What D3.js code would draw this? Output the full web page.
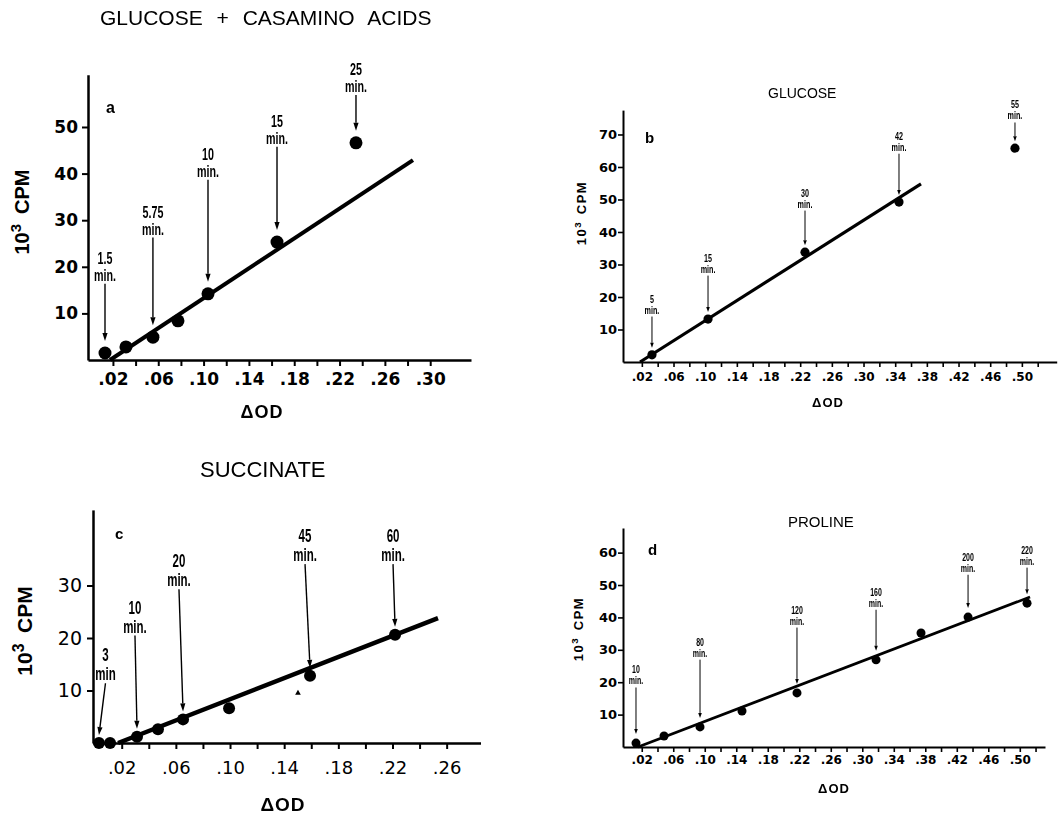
<!DOCTYPE html>
<html>
<head>
<meta charset="utf-8">
<script src="https://cdn.jsdelivr.net/npm/d3@7"></script>
<style>
  body { margin: 0; background: #fff; }
  svg { display: block; }
</style>
</head>
<body>
<div class="canvas"></div>
<script>
// ---- data ----

// a: glucose + casamino acids
const odA = [0.013, 0.0315, 0.0553, 0.0774, 0.1039, 0.1648, 0.2345];
const cpmA = [1.5, 2.8, 4.9, 8.4, 14.2, 25.3, 46.6];
const fitOdA = [0.0174, 0.2848];
const fitCpmA = [0, 42.9];
const noteIdxA = [0, 2, 4, 5, 6];
const noteTextA = ['1.5 min.', '5.75 min.', '10 min.', '15 min.', '25 min.'];
const noteTopA = [21.9, 31.8, 44.2, 51.3, 62.4];
const xTicksA = [.02, .04, .06, .08, .10, .12, .14, .16, .18, .20, .22, .24, .26, .28, .30];
const xLabelsA = ['.02', '.06', '.10', '.14', '.18', '.22', '.26', '.30'];
const yTicksA = [10, 20, 30, 40, 50];

// b: glucose
const odB = [0.0328, 0.1036, 0.2261, 0.3448, 0.4913];
const cpmB = [2.2, 13.2, 33.8, 49.2, 65.8];
const fitOdB = [0.0177, 0.3726];
const fitCpmB = [0, 54.8];
const noteIdxB = [0, 1, 2, 3, 4];
const noteTextB = ['5 min.', '15 min.', '30 min.', '42 min.', '55 min.'];
const noteTopB = [19.4, 32, 52, 69.5, 79.1];
const xTicksB = [.02, .04, .06, .08, .10, .12, .14, .16, .18, .20, .22, .24, .26, .28, .30, .32, .34, .36, .38, .40, .42, .44, .46, .48, .50, .52];
const xLabelsB = ['.02', '.06', '.10', '.14', '.18', '.22', '.26', '.30', '.34', '.38', '.42', '.46', '.50'];
const yTicksB = [10, 20, 30, 40, 50, 60, 70];

// c: succinate
const odC = [0.0032, 0.0114, 0.0313, 0.0468, 0.0653, 0.0993, 0.1591, 0.2219];
const cpmC = [0, 0, 1.2, 2.6, 4.5, 6.6, 12.8, 20.6];
const fitOdC = [0.0173, 0.2536];
const fitCpmC = [0, 23.8];
const noteIdxC = [0, 2, 4, 6, 7];
const noteTextC = ['3 min', '10 min.', '20 min.', '45 min.', '60 min.'];
const noteTopC = [16.8, 25.9, 34.7, 39.5, 39.5];
const noteOdC = [0.008, 0.0298, 0.0623, 0.1554, 0.2204];
const speckOdC = [0.1502];
const speckCpmC = [9.5];
const xTicksC = [.02, .04, .06, .08, .10, .12, .14, .16, .18, .20, .22, .24, .26];
const xLabelsC = ['.02', '.06', '.10', '.14', '.18', '.22', '.26'];
const yTicksC = [10, 20, 30];

// d: proline
const odD = [0.0127, 0.0483, 0.094, 0.1473, 0.2171, 0.3175, 0.3746, 0.4343, 0.5092];
const cpmD = [1.2, 3.4, 6.2, 11.1, 16.7, 26.9, 35.2, 40.1, 44.4];
const fitOdD = [0.0152, 0.513];
const fitCpmD = [0, 46.3];
const noteIdxD = [0, 2, 4, 5, 7, 8];
const noteTextD = ['10 min.', '80 min.', '120 min.', '160 min.', '200 min.', '220 min.'];
const noteTopD = [23.8, 32.4, 42.3, 47.8, 58.6, 60.8];
const xTicksD = xTicksB;
const xLabelsD = xLabelsB;
const yTicksD = [10, 20, 30, 40, 50, 60];

// ---- drawing ----
const TICK_FONT = "'DejaVu Sans', sans-serif";
const LABEL_FONT = "'Liberation Sans', Arial, sans-serif";

const svg = d3.select('.canvas')
    .append('svg')
    .attr('width', 1058)
    .attr('height', 817);

// squeezed small text picks up colour fringes, so flatten it to grey
svg.append('defs')
    .append('filter')
        .attr('id', 'mono')
        .attr('x', '-20%').attr('y', '-20%').attr('width', '140%').attr('height', '140%')
    .append('feColorMatrix')
        .attr('type', 'saturate')
        .attr('values', 0);

const fmtOD = v => d3.format('.2f')(v).replace(/^0/, '');

const drawPanel = (p) => {
    const x = d3.scaleLinear().domain(p.xDomain).range(p.xRange);
    const y = d3.scaleLinear().domain(p.yDomain).range(p.yRange);
    const g = svg.append('g');

    // axes
    const xAxis = d3.axisBottom(x)
        .tickValues(p.xTicks)
        .tickSize(p.tick)
        .tickSizeOuter(0)
        .tickPadding(p.xPad)
        .tickFormat(v => p.xLabels.includes(fmtOD(v)) ? fmtOD(v) : '');
    const yAxis = d3.axisLeft(y)
        .tickValues(p.yTicks)
        .tickSize(p.tick)
        .tickSizeOuter(0)
        .tickPadding(p.yPad)
        .tickFormat(d3.format('d'));

    const xg = g.append('g').attr('transform', `translate(0,${p.yRange[0]})`).call(xAxis);
    const yg = g.append('g').attr('transform', `translate(${p.xRange[0]},0)`).call(yAxis);
    [xg, yg].forEach(a => {
        a.attr('font-family', null).attr('font-size', null);
        a.select('.domain').attr('stroke', '#000').attr('stroke-width', p.axisW);
        a.selectAll('.tick line').attr('stroke', '#000').attr('stroke-width', p.axisW * 0.8);
        a.selectAll('.tick text')
            .attr('fill', '#000')
            .style('font-family', TICK_FONT)
            .style('font-weight', p.tickWeight);
    });
    xg.selectAll('.tick text').style('font-size', p.xFont + 'px');
    yg.selectAll('.tick text').style('font-size', p.yFont + 'px');

    // fitted line
    g.append('line')
        .attr('x1', x(p.fitOd[0])).attr('y1', y(p.fitCpm[0]))
        .attr('x2', x(p.fitOd[1])).attr('y2', y(p.fitCpm[1]))
        .attr('stroke', '#000')
        .attr('stroke-width', p.lineW);

    // points
    g.selectAll('circle.pt')
        .data(p.od.map((d, i) => ({ od: d, cpm: p.cpm[i] })))
        .enter()
        .append('circle')
            .attr('class', 'pt')
            .attr('cx', d => x(d.od))
            .attr('cy', d => y(d.cpm))
            .attr('r', p.r)
            .attr('fill', '#000');

    if (p.speckOd) {
        g.selectAll('path.speck')
            .data(p.speckOd.map((d, i) => ({ od: d, cpm: p.speckCpm[i] })))
            .enter()
            .append('path')
                .attr('class', 'speck')
                .attr('d', d3.symbol(d3.symbolTriangle, 14))
                .attr('transform', d => `translate(${x(d.od)},${y(d.cpm)})`)
                .attr('fill', '#000');
    }

    // time annotations with arrows (condensed type, squeezed horizontally)
    const notes = g.append('g').attr('filter', 'url(#mono)');
    p.noteIdx.forEach((pi, i) => {
        const parts = p.noteText[i].split(' ');
        const lx = x(p.noteOd ? p.noteOd[i] : p.od[pi]);
        const b1 = y(p.noteTop[i]) + p.noteSize * 0.36;
        const b2 = b1 + p.noteGap;
        [parts[0], parts[1]].forEach((t, k) => {
            notes.append('text')
                .attr('transform', `translate(${lx},${k === 0 ? b1 : b2}) scale(${p.noteSqueeze},1)`)
                .attr('text-anchor', 'middle')
                .attr('fill', '#000')
                .style('font-family', LABEL_FONT)
                .style('font-weight', 'bold')
                .style('font-size', p.noteSize + 'px')
                .text(t);
        });
        const x1 = lx, y1 = b2 + 3;
        const x2 = x(p.od[pi]), y2 = y(p.cpm[pi]) - p.arrowGap;
        const len = Math.hypot(x2 - x1, y2 - y1);
        const ux = (x2 - x1) / len, uy = (y2 - y1) / len;
        const bx = x2 - ux * p.headL, by = y2 - uy * p.headL;
        g.append('line')
            .attr('x1', x1).attr('y1', y1).attr('x2', bx).attr('y2', by)
            .attr('stroke', '#000').attr('stroke-width', p.arrowW);
        g.append('path')
            .attr('d', `M${x2},${y2}L${bx - uy * p.headW},${by + ux * p.headW}L${bx + uy * p.headW},${by - ux * p.headW}Z`)
            .attr('fill', '#000');
    });

    // titles and labels
    g.append('text')
        .attr('x', p.titleX).attr('y', p.titleY)
        .style('font-family', LABEL_FONT)
        .style('font-size', p.titleSize + 'px')
        .style('word-spacing', p.titleWordGap + 'px')
        .text(p.title);

    g.append('text')
        .attr('x', p.letterX).attr('y', p.letterY)
        .style('font-family', LABEL_FONT)
        .style('font-weight', 'bold')
        .style('font-size', p.letterSize + 'px')
        .text(p.letter);

    g.append('text')
        .attr('x', p.odX).attr('y', p.odY)
        .attr('text-anchor', 'middle')
        .style('font-family', LABEL_FONT)
        .style('font-weight', 'bold')
        .style('font-size', p.odSize + 'px')
        .style('letter-spacing', p.odSpacing + 'px')
        .text('\u0394OD');

    const yl = g.append('text')
        .attr('transform', `translate(${p.cpmX},${p.cpmY}) rotate(-90)`)
        .attr('text-anchor', 'middle')
        .style('font-family', LABEL_FONT)
        .style('font-weight', 'bold')
        .style('font-size', p.cpmSize + 'px')
        .style('letter-spacing', p.cpmSpacing + 'px');
    yl.append('tspan').text('10');
    yl.append('tspan')
        .attr('dy', -p.cpmSize * 0.4)
        .style('font-size', p.cpmSize * 0.75 + 'px')
        .text('3');
    yl.append('tspan')
        .attr('dy', p.cpmSize * 0.4)
        .attr('dx', p.cpmSize * 0.5)
        .text('CPM');
};

drawPanel({
    od: odA, cpm: cpmA, fitOd: fitOdA, fitCpm: fitCpmA,
    noteIdx: noteIdxA, noteText: noteTextA, noteTop: noteTopA,
    xTicks: xTicksA, xLabels: xLabelsA, yTicks: yTicksA,
    xDomain: [-0.002, 0.336], xRange: [88, 471],
    yDomain: [0, 61.2], yRange: [360, 74.8],
    tick: 6, xPad: 7, yPad: 4, axisW: 2.5, tickWeight: 'bold', xFont: 17, yFont: 17,
    lineW: 4, r: 6.5,
    noteSize: 16, noteSqueeze: 0.67, noteGap: 17, arrowGap: 12, arrowW: 1.4, headL: 8, headW: 2.6,
    title: 'GLUCOSE + CASAMINO ACIDS', titleX: 100, titleY: 25, titleSize: 21, titleWordGap: 8,
    letter: 'a', letterX: 106, letterY: 113, letterSize: 16,
    odX: 262, odY: 418, odSize: 18, odSpacing: 1,
    cpmX: 29, cpmY: 212, cpmSize: 20, cpmSpacing: 0
});

drawPanel({
    od: odB, cpm: cpmB, fitOd: fitOdB, fitCpm: fitCpmB,
    noteIdx: noteIdxB, noteText: noteTextB, noteTop: noteTopB,
    xTicks: xTicksB, xLabels: xLabelsB, yTicks: yTicksB,
    xDomain: [-0.0038, 0.544], xRange: [623, 1056.7],
    yDomain: [0, 77.5], yRange: [362, 110.1],
    tick: 5, xPad: 5, yPad: 1, axisW: 2, tickWeight: 'bold', xFont: 12, yFont: 13,
    lineW: 3.2, r: 4.6,
    noteSize: 10, noteSqueeze: 0.72, noteGap: 11, arrowGap: 7, arrowW: 1, headL: 5, headW: 1.8,
    title: 'GLUCOSE', titleX: 768, titleY: 98, titleSize: 14, titleWordGap: 0,
    letter: 'b', letterX: 645, letterY: 143, letterSize: 15,
    odX: 828, odY: 407, odSize: 13, odSpacing: 1,
    cpmX: 586, cpmY: 213, cpmSize: 13, cpmSpacing: 1.5
});

drawPanel({
    od: odC, cpm: cpmC, fitOd: fitOdC, fitCpm: fitCpmC,
    noteIdx: noteIdxC, noteText: noteTextC, noteTop: noteTopC, noteOd: noteOdC,
    speckOd: speckOdC, speckCpm: speckCpmC,
    xTicks: xTicksC, xLabels: xLabelsC, yTicks: yTicksC,
    xDomain: [-0.0012, 0.285], xRange: [93, 480.5],
    yDomain: [0, 44.4], yRange: [743, 509.9],
    tick: 6, xPad: 12, yPad: 5, axisW: 2.5, tickWeight: 'normal', xFont: 18, yFont: 19,
    lineW: 4.5, r: 6,
    noteSize: 18, noteSqueeze: 0.64, noteGap: 19, arrowGap: 8, arrowW: 1.4, headL: 8, headW: 2.6,
    title: 'SUCCINATE', titleX: 200, titleY: 477, titleSize: 22, titleWordGap: 0,
    letter: 'c', letterX: 115, letterY: 539, letterSize: 15,
    odX: 283, odY: 811, odSize: 19, odSpacing: 1,
    cpmX: 32, cpmY: 631, cpmSize: 21, cpmSpacing: 0
});

drawPanel({
    od: odD, cpm: cpmD, fitOd: fitOdD, fitCpm: fitCpmD,
    noteIdx: noteIdxD, noteText: noteTextD, noteTop: noteTopD,
    xTicks: xTicksD, xLabels: xLabelsD, yTicks: yTicksD,
    xDomain: [-0.0038, 0.532], xRange: [623, 1045],
    yDomain: [0, 67.6], yRange: [747, 528],
    tick: 5, xPad: 3, yPad: 1, axisW: 2, tickWeight: 'bold', xFont: 12, yFont: 13,
    lineW: 2.8, r: 4.5,
    noteSize: 10, noteSqueeze: 0.7, noteGap: 11, arrowGap: 9, arrowW: 1, headL: 5, headW: 1.8,
    title: 'PROLINE', titleX: 788, titleY: 527, titleSize: 15, titleWordGap: 0,
    letter: 'd', letterX: 648, letterY: 555, letterSize: 15,
    odX: 834, odY: 793, odSize: 13, odSpacing: 1,
    cpmX: 583, cpmY: 629, cpmSize: 13, cpmSpacing: 1.5
});
</script>
</body>
</html>
